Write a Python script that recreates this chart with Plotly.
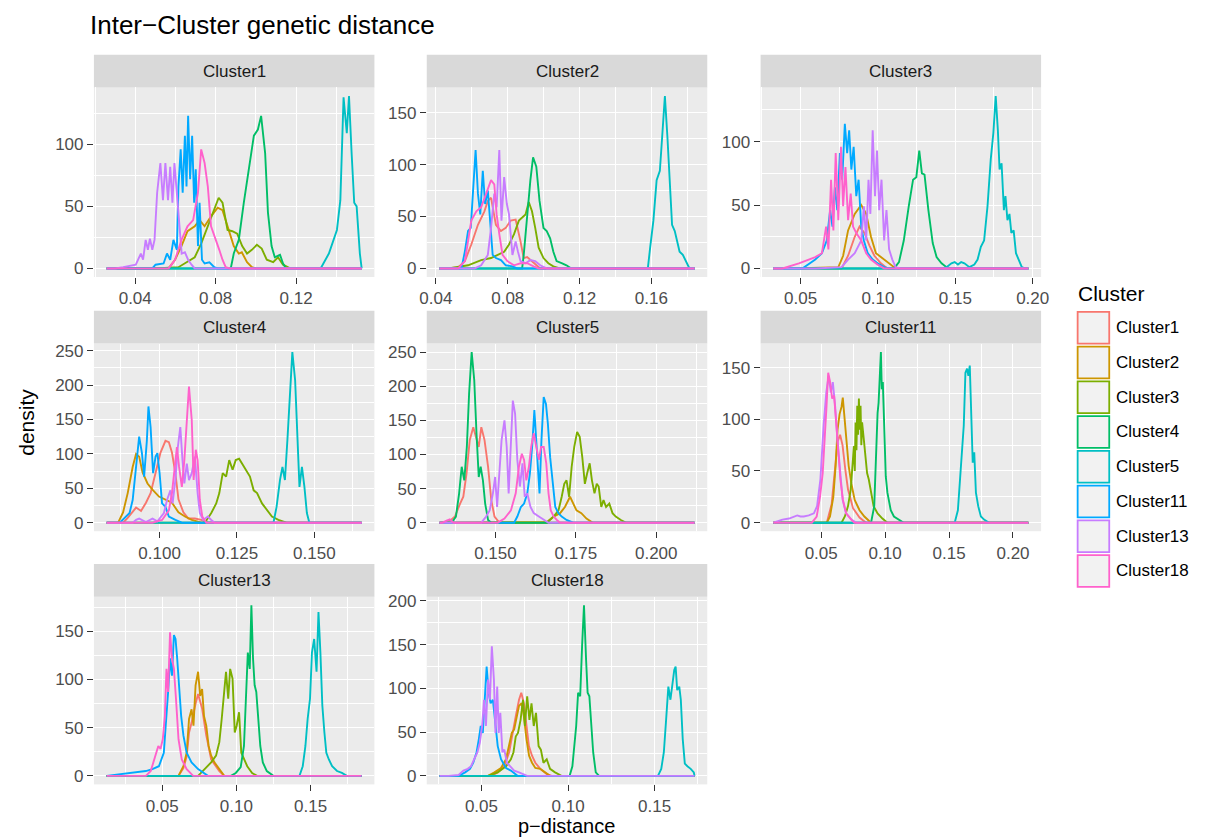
import plotly.graph_objects as go

W, H = 1217, 840
FONT = "Liberation Sans, Arial, Helvetica, sans-serif"

PANELS = ["Cluster1", "Cluster2", "Cluster3", "Cluster4", "Cluster5", "Cluster11", "Cluster13", "Cluster18"]
GROUPS = ["Cluster1", "Cluster2", "Cluster3", "Cluster4", "Cluster5", "Cluster11", "Cluster13", "Cluster18"]
COLORS = ["#F8766D", "#CD9600", "#7CAE00", "#00BE67", "#00BFC4", "#00A9FF", "#C77CFF", "#FF61CC"]

X_DATA_RANGE = {
    "Cluster1": (0.0258, 0.1526), "Cluster2": (0.042, 0.184), "Cluster3": (0.0324, 0.1972),
    "Cluster4": (0.0829, 0.1653), "Cluster5": (0.1326, 0.2119), "Cluster11": (0.0126, 0.212),
    "Cluster13": (0.0126, 0.1844), "Cluster18": (0.0258, 0.173),
}
X_TICKS = {
    "Cluster1": [0.04, 0.08, 0.12], "Cluster2": [0.04, 0.08, 0.12, 0.16],
    "Cluster3": [0.05, 0.10, 0.15, 0.20], "Cluster4": [0.100, 0.125, 0.150],
    "Cluster5": [0.150, 0.175, 0.200], "Cluster11": [0.05, 0.10, 0.15, 0.20],
    "Cluster13": [0.05, 0.10, 0.15], "Cluster18": [0.05, 0.10, 0.15],
}
X_DECIMALS = {"Cluster1": 2, "Cluster2": 2, "Cluster3": 2, "Cluster4": 3,
              "Cluster5": 3, "Cluster11": 2, "Cluster13": 2, "Cluster18": 2}
Y_TICKS = {
    "Cluster1": [0, 50, 100], "Cluster2": [0, 50, 100, 150], "Cluster3": [0, 50, 100],
    "Cluster4": [0, 50, 100, 150, 200, 250], "Cluster5": [0, 50, 100, 150, 200, 250],
    "Cluster11": [0, 50, 100, 150], "Cluster13": [0, 50, 100, 150],
    "Cluster18": [0, 50, 100, 150, 200],
}

# density curves: panel -> group -> x, y
DENS_CLUSTER1 = {
    "Cluster2": {"x": [0.0566, 0.0598, 0.063, 0.066, 0.0696, 0.072, 0.0745, 0.0777, 0.081, 0.0834, 0.0859, 0.089, 0.0915, 0.093, 0.0956, 0.098, 0.100],
                 "y": [0, 7, 18, 30, 34, 39, 34, 42, 49, 47, 34, 18, 12, 13, 5, 1, 0]},
    "Cluster3": {"x": [0.050, 0.0615, 0.0696, 0.0728, 0.0761, 0.0793, 0.0815, 0.0834, 0.0859, 0.0883, 0.0907, 0.0932, 0.0956, 0.098, 0.1005, 0.1029, 0.1054, 0.1086, 0.111, 0.1135, 0.117],
                 "y": [0, 1, 9, 20, 34, 47, 57, 53, 31, 30, 28, 18, 12, 15, 19, 16, 7, 5, 9, 3, 0]},
    "Cluster4": {"x": [0.0875, 0.089, 0.0915, 0.094, 0.0965, 0.099, 0.101, 0.1026, 0.1046, 0.106, 0.1078, 0.1094, 0.112, 0.1135, 0.115],
                 "y": [0, 12, 23, 53, 80, 107, 112, 123, 93, 45, 18, 9, 11, 4, 0]},
    "Cluster5": {"x": [0.1322, 0.1363, 0.1387, 0.1403, 0.142, 0.1436, 0.1452, 0.1463, 0.1476, 0.1489, 0.1501, 0.1517],
                 "y": [0, 12, 23, 31, 55, 138, 109, 139, 93, 53, 50, 12]},
    "Cluster11": {"x": [0.0485, 0.0501, 0.0541, 0.0558, 0.0574, 0.059, 0.0607, 0.0615, 0.0626, 0.0636, 0.0647, 0.0655, 0.0663, 0.0673, 0.0683, 0.0693, 0.0701, 0.0712, 0.072, 0.0732, 0.0745, 0.0769, 0.0793, 0.081],
                  "y": [0, 3, 4, 12, 7, 23, 15, 66, 96, 61, 107, 66, 123, 72, 107, 53, 80, 18, 53, 7, 4, 5, 1, 0]},
    "Cluster13": {"x": [0.030, 0.034, 0.038, 0.0403, 0.0428, 0.0439, 0.0452, 0.0463, 0.0473, 0.0485, 0.0496, 0.0509, 0.0525, 0.0538, 0.055, 0.0563, 0.0574, 0.0585, 0.0595, 0.0607, 0.0618, 0.0631, 0.0647, 0.0663, 0.068, 0.0696],
                  "y": [0, 1, 2, 3, 12, 7, 23, 15, 24, 15, 23, 61, 85, 55, 85, 55, 82, 53, 85, 58, 34, 12, 13, 7, 3, 0]},
    "Cluster18": {"x": [0.0566, 0.0598, 0.063, 0.066, 0.0688, 0.0712, 0.0728, 0.0745, 0.0761, 0.0777, 0.0802, 0.0818, 0.0834, 0.085, 0.087],
                  "y": [0, 7, 23, 34, 39, 61, 96, 85, 66, 34, 23, 15, 7, 1, 0]},
}
DENS_CLUSTER2 = {
    "Cluster1": {"x": [0.045, 0.0524, 0.0561, 0.0597, 0.0634, 0.067, 0.0689, 0.0707, 0.0734, 0.0762, 0.0789, 0.0816, 0.0844, 0.0871, 0.0889, 0.0908, 0.0935, 0.0963, 0.0981],
                 "y": [0, 1, 7, 23, 42, 55, 65, 68, 42, 36, 39, 46, 47, 26, 10, 11, 7, 2, 0]},
    "Cluster3": {"x": [0.0469, 0.0579, 0.0652, 0.0707, 0.0743, 0.078, 0.0807, 0.0835, 0.0862, 0.088, 0.0899, 0.0917, 0.0935, 0.0953, 0.0972, 0.0999, 0.1026, 0.1054, 0.109],
                 "y": [0, 3, 8, 10, 13, 16, 23, 33, 46, 49, 52, 64, 55, 39, 20, 10, 5, 2, 0]},
    "Cluster4": {"x": [0.088, 0.0889, 0.0908, 0.0926, 0.0941, 0.0959, 0.0977, 0.0999, 0.1017, 0.1036, 0.1054, 0.1072, 0.11, 0.1127, 0.1154],
                 "y": [0, 13, 52, 85, 107, 98, 65, 39, 36, 29, 16, 7, 5, 3, 0]},
    "Cluster5": {"x": [0.158, 0.1593, 0.1611, 0.1629, 0.1647, 0.166, 0.1675, 0.1689, 0.1702, 0.1715, 0.173, 0.1744, 0.1757, 0.1775, 0.1794, 0.1812],
                 "y": [0, 20, 46, 85, 94, 127, 166, 127, 78, 42, 36, 26, 16, 13, 7, 0]},
    "Cluster11": {"x": [0.0542, 0.0561, 0.0579, 0.0594, 0.0606, 0.0621, 0.0634, 0.0647, 0.0661, 0.0674, 0.0689, 0.0703, 0.0716, 0.0734, 0.0762, 0.0789, 0.0826, 0.0853],
                  "y": [0, 16, 36, 39, 78, 114, 72, 52, 94, 62, 75, 46, 13, 10, 8, 3, 2, 0]},
    "Cluster13": {"x": [0.0616, 0.0652, 0.0689, 0.0707, 0.0725, 0.0738, 0.0753, 0.0765, 0.078, 0.0795, 0.0807, 0.0826, 0.0844, 0.0857, 0.0871, 0.0899, 0.0926, 0.0953, 0.0981, 0.1017],
                  "y": [0, 3, 13, 39, 72, 59, 114, 46, 88, 62, 52, 13, 26, 16, 7, 5, 8, 7, 3, 0]},
    "Cluster18": {"x": [0.0524, 0.0561, 0.0597, 0.0625, 0.0652, 0.068, 0.0707, 0.0725, 0.0738, 0.0753, 0.0771, 0.0798, 0.0835, 0.0871, 0.0908, 0.0944, 0.0972],
                  "y": [0, 7, 46, 55, 59, 72, 85, 81, 52, 33, 13, 7, 3, 5, 5, 2, 0]},
}
DENS_CLUSTER3 = {
    "Cluster1": {"x": [0.0765, 0.0807, 0.085, 0.0881, 0.0913, 0.0945, 0.0977, 0.1019, 0.1061],
                 "y": [0, 10, 25, 33, 28, 18, 10, 4, 0]},
    "Cluster2": {"x": [0.045, 0.0744, 0.0775, 0.0807, 0.085, 0.0892, 0.0924, 0.0955, 0.0987, 0.1019, 0.1061, 0.1104, 0.1136],
                 "y": [0, 1, 10, 30, 43, 50, 43, 25, 12, 9, 5, 1, 0]},
    "Cluster4": {"x": [0.1104, 0.1136, 0.1167, 0.1199, 0.1227, 0.1248, 0.1267, 0.1284, 0.1301, 0.1326, 0.1354, 0.1379, 0.1411, 0.1443, 0.1475],
                 "y": [0, 5, 22, 49, 70, 72, 93, 75, 74, 46, 20, 9, 4, 1, 0]},
    "Cluster5": {"x": [0.1422, 0.1443, 0.1475, 0.1496, 0.1517, 0.1538, 0.1559, 0.1591, 0.1623, 0.1644, 0.1665, 0.1686, 0.1708, 0.1729, 0.1746, 0.1761, 0.1775, 0.1786, 0.1799, 0.1814, 0.1824, 0.1837, 0.185, 0.1862, 0.1877, 0.1892, 0.1909, 0.193, 0.1951],
                 "y": [0, 1, 4, 5, 3, 5, 4, 1, 3, 7, 17, 22, 49, 86, 107, 136, 109, 78, 83, 46, 57, 38, 43, 28, 30, 12, 7, 1, 0]},
    "Cluster11": {"x": [0.0511, 0.0595, 0.0638, 0.0669, 0.0691, 0.0706, 0.0722, 0.0737, 0.0754, 0.0769, 0.0786, 0.0801, 0.0814, 0.0828, 0.0843, 0.086, 0.0875, 0.0892, 0.0909, 0.0934, 0.0966, 0.0998, 0.104, 0.1072],
                  "y": [0, 7, 12, 22, 46, 33, 64, 46, 91, 70, 114, 91, 109, 78, 96, 57, 70, 33, 22, 12, 7, 4, 1, 0]},
    "Cluster13": {"x": [0.060, 0.0765, 0.0807, 0.085, 0.0892, 0.0909, 0.0924, 0.0939, 0.0951, 0.0966, 0.0981, 0.0994, 0.1008, 0.1023, 0.104, 0.1055, 0.1072, 0.1093, 0.1114, 0.1146],
                  "y": [0, 1, 7, 12, 22, 49, 22, 70, 43, 109, 57, 93, 46, 70, 22, 46, 15, 7, 1, 0]},
    "Cluster18": {"x": [0.0383, 0.0489, 0.0553, 0.0595, 0.0638, 0.0665, 0.068, 0.0697, 0.0712, 0.0727, 0.0744, 0.0761, 0.0775, 0.079, 0.0807, 0.0824, 0.0839, 0.086, 0.0892, 0.0924, 0.0955, 0.0998, 0.104],
                  "y": [0, 4, 7, 9, 12, 33, 15, 70, 30, 91, 38, 96, 49, 80, 38, 59, 33, 28, 22, 12, 7, 3, 0]},
}
DENS_CLUSTER4 = {
    "Cluster1": {"x": [0.0882, 0.0897, 0.0913, 0.0924, 0.094, 0.0956, 0.0971, 0.0987, 0.1003, 0.1019, 0.103, 0.104, 0.1051, 0.1061, 0.1077, 0.1093, 0.1114, 0.1135, 0.1156],
                 "y": [0, 7, 17, 22, 17, 29, 43, 72, 102, 119, 117, 102, 72, 34, 15, 6, 6, 4, 0]},
    "Cluster2": {"x": [0.0866, 0.0882, 0.0897, 0.0913, 0.0924, 0.0934, 0.0945, 0.0961, 0.0977, 0.0998, 0.1019, 0.104, 0.1061, 0.1082, 0.1104, 0.1135],
                 "y": [0, 15, 43, 81, 100, 96, 73, 57, 48, 38, 34, 29, 15, 9, 4, 0]},
    "Cluster3": {"x": [0.1146, 0.1167, 0.1183, 0.1193, 0.1204, 0.1215, 0.1225, 0.1236, 0.1246, 0.1257, 0.1267, 0.1278, 0.1292, 0.1304, 0.1315, 0.1331, 0.1347, 0.1363, 0.1384, 0.141],
                 "y": [0, 14, 28, 43, 72, 67, 91, 77, 91, 93, 86, 77, 67, 47, 43, 28, 18, 9, 4, 0]},
    "Cluster5": {"x": [0.1368, 0.1378, 0.1389, 0.1397, 0.1405, 0.1413, 0.1421, 0.1429, 0.1438, 0.1445, 0.1452, 0.146, 0.1468, 0.1476, 0.1484],
                 "y": [0, 23, 62, 81, 62, 120, 193, 248, 207, 120, 52, 81, 52, 14, 0]},
    "Cluster11": {"x": [0.0871, 0.0887, 0.0903, 0.0913, 0.0924, 0.0934, 0.0943, 0.095, 0.0959, 0.0964, 0.0971, 0.0979, 0.0987, 0.0993, 0.1, 0.1008, 0.1019, 0.103, 0.1051, 0.1072],
                  "y": [0, 7, 14, 33, 81, 125, 101, 67, 120, 169, 139, 72, 96, 101, 72, 28, 23, 9, 4, 0]},
    "Cluster13": {"x": [0.0913, 0.0924, 0.0934, 0.0956, 0.0977, 0.0993, 0.1014, 0.1024, 0.1035, 0.1042, 0.1051, 0.1059, 0.1067, 0.1074, 0.108, 0.1088, 0.1095, 0.1104, 0.1114, 0.1123, 0.113, 0.1141, 0.1156, 0.1167, 0.1178],
                  "y": [0, 4, 6, 1, 6, 2, 14, 33, 47, 28, 62, 110, 139, 91, 57, 86, 62, 72, 96, 43, 14, 4, 9, 4, 0]},
    "Cluster18": {"x": [0.0977, 0.1008, 0.103, 0.104, 0.1049, 0.1056, 0.1063, 0.1072, 0.108, 0.1088, 0.1095, 0.1104, 0.111, 0.1117, 0.1123, 0.113, 0.1138, 0.1151],
                  "y": [0, 4, 18, 43, 86, 110, 81, 52, 91, 154, 198, 149, 62, 106, 91, 33, 9, 0]},
}
DENS_CLUSTER5 = {
    "Cluster1": {"x": [0.1326, 0.1344, 0.1359, 0.1374, 0.139, 0.14, 0.141, 0.142, 0.1431, 0.1441, 0.1448, 0.1456, 0.1466, 0.1477, 0.1487, 0.1497, 0.1512],
                 "y": [0, 1, 3, 9, 28, 38, 72, 121, 140, 121, 111, 140, 121, 82, 33, 9, 0]},
    "Cluster2": {"x": [0.164, 0.166, 0.1681, 0.1701, 0.1716, 0.1732, 0.1742, 0.1752, 0.1767, 0.1783, 0.1803],
                 "y": [0, 1, 9, 14, 23, 38, 28, 18, 14, 6, 0]},
    "Cluster3": {"x": [0.166, 0.1681, 0.1696, 0.1706, 0.1714, 0.1721, 0.1729, 0.1737, 0.1745, 0.1754, 0.1762, 0.177, 0.1778, 0.1785, 0.1793, 0.18, 0.1808, 0.1815, 0.1821, 0.1829, 0.1836, 0.1844, 0.1854, 0.1864, 0.1874, 0.189, 0.1905],
                 "y": [0, 9, 18, 38, 57, 62, 38, 82, 111, 133, 126, 96, 57, 72, 87, 62, 43, 57, 53, 23, 33, 23, 28, 14, 9, 4, 0]},
    "Cluster4": {"x": [0.1364, 0.1377, 0.1387, 0.1395, 0.1403, 0.1411, 0.1418, 0.1426, 0.1434, 0.1441, 0.1448, 0.1454, 0.1461, 0.1468, 0.1477, 0.1487],
                 "y": [0, 9, 43, 82, 62, 111, 189, 250, 209, 131, 67, 82, 62, 28, 4, 0]},
    "Cluster11": {"x": [0.1558, 0.1568, 0.1579, 0.1589, 0.1599, 0.1607, 0.1614, 0.1621, 0.163, 0.1637, 0.1643, 0.165, 0.1657, 0.1663, 0.167, 0.1679, 0.1686, 0.1696, 0.1706, 0.1721, 0.1742],
                  "y": [0, 9, 23, 28, 43, 72, 111, 165, 101, 43, 121, 184, 174, 145, 96, 57, 23, 14, 9, 4, 0]},
    "Cluster13": {"x": [0.1456, 0.1471, 0.1482, 0.1492, 0.1499, 0.1505, 0.1512, 0.1519, 0.1528, 0.1535, 0.1541, 0.1548, 0.1554, 0.1561, 0.1568, 0.1576, 0.1584, 0.1591, 0.1599, 0.1609, 0.1619, 0.1635, 0.165, 0.1665],
                  "y": [0, 9, 18, 43, 67, 23, 72, 121, 150, 111, 43, 111, 179, 160, 92, 53, 87, 38, 43, 23, 14, 9, 4, 0]},
    "Cluster18": {"x": [0.1335, 0.1348, 0.1358, 0.137, 0.1507, 0.1528, 0.1548, 0.1563, 0.1573, 0.1582, 0.1589, 0.1596, 0.1604, 0.1611, 0.1619, 0.1627, 0.1635, 0.1642, 0.165, 0.1658, 0.1665, 0.1672, 0.1681, 0.1691, 0.1701],
                  "y": [0, 3, 5, 0, 0, 6, 18, 43, 82, 101, 92, 62, 82, 111, 131, 111, 92, 111, 111, 87, 43, 18, 9, 4, 0]},
}
DENS_CLUSTER11 = {
    "Cluster1": {"x": [0.0544, 0.0582, 0.0608, 0.0628, 0.0648, 0.0667, 0.069, 0.071, 0.0749, 0.08, 0.0851],
                 "y": [0, 18, 50, 78, 85, 75, 50, 32, 14, 5, 0]},
    "Cluster2": {"x": [0.0544, 0.0569, 0.0595, 0.0613, 0.0628, 0.0644, 0.0659, 0.0669, 0.0685, 0.07, 0.0715, 0.0736, 0.0762, 0.08, 0.0838, 0.089],
                 "y": [0, 6, 25, 55, 90, 105, 112, 121, 95, 80, 55, 38, 22, 12, 6, 0]},
    "Cluster3": {"x": [0.0659, 0.0685, 0.071, 0.0731, 0.0744, 0.0756, 0.0763, 0.0769, 0.0776, 0.0782, 0.0789, 0.0795, 0.0801, 0.0808, 0.0814, 0.082, 0.0833, 0.0846, 0.0859, 0.0872, 0.089, 0.091, 0.0941, 0.0979, 0.1018],
                 "y": [0, 6, 16, 32, 55, 74, 50, 97, 70, 113, 85, 120, 90, 113, 75, 97, 81, 64, 48, 42, 29, 16, 9, 4, 0]},
    "Cluster4": {"x": [0.089, 0.0915, 0.0928, 0.0941, 0.0949, 0.0959, 0.0967, 0.0974, 0.0982, 0.0992, 0.1005, 0.1018, 0.1031, 0.1044, 0.1069, 0.1108, 0.1146],
                 "y": [0, 16, 64, 106, 116, 152, 165, 129, 136, 97, 45, 29, 22, 12, 6, 3, 0]},
    "Cluster5": {"x": [0.1544, 0.1569, 0.1587, 0.1603, 0.1615, 0.1628, 0.1641, 0.1651, 0.1662, 0.1674, 0.1685, 0.1697, 0.171, 0.1728, 0.1749, 0.1774, 0.1813],
                 "y": [0, 12, 48, 74, 94, 145, 149, 142, 152, 103, 58, 68, 29, 16, 6, 3, 0]},
    "Cluster13": {"x": [0.0197, 0.0249, 0.0287, 0.0313, 0.0338, 0.0364, 0.0403, 0.0443, 0.0468, 0.0494, 0.0519, 0.054, 0.0558, 0.0576, 0.0591, 0.0609, 0.0627, 0.0648, 0.0668, 0.0694, 0.0737, 0.0776],
                  "y": [3, 4, 6, 7, 6, 6, 7, 9, 16, 42, 94, 126, 142, 126, 136, 113, 81, 48, 22, 9, 3, 0]},
    "Cluster18": {"x": [0.0427, 0.0465, 0.0491, 0.0512, 0.0529, 0.0542, 0.0555, 0.057, 0.0586, 0.0601, 0.0617, 0.0632, 0.065, 0.067, 0.0696, 0.0735, 0.076],
                  "y": [0, 6, 25, 48, 81, 113, 145, 136, 120, 123, 97, 71, 42, 22, 9, 3, 0]},
}
DENS_CLUSTER13 = {
    "Cluster1": {"x": [0.061, 0.0643, 0.0665, 0.0681, 0.0698, 0.0725, 0.0742, 0.0769, 0.0797, 0.083, 0.0885, 0.0918],
                 "y": [0, 8, 20, 45, 55, 75, 85, 70, 42, 17, 5, 0]},
    "Cluster2": {"x": [0.061, 0.0643, 0.0665, 0.0681, 0.0698, 0.0711, 0.0725, 0.0742, 0.0756, 0.0769, 0.0782, 0.0797, 0.0813, 0.083, 0.0852, 0.0885, 0.0918],
                 "y": [0, 10, 24, 59, 69, 52, 94, 108, 83, 90, 62, 52, 31, 21, 14, 7, 0]},
    "Cluster3": {"x": [0.0742, 0.0786, 0.083, 0.0863, 0.0885, 0.0901, 0.0914, 0.093, 0.0945, 0.0958, 0.0974, 0.0989, 0.1002, 0.1018, 0.1033, 0.1051, 0.1073, 0.1106, 0.1139],
                 "y": [0, 7, 14, 21, 35, 59, 80, 108, 80, 111, 101, 45, 52, 66, 24, 17, 10, 3, 0]},
    "Cluster4": {"x": [0.0963, 0.0996, 0.1029, 0.1051, 0.1064, 0.1077, 0.109, 0.1101, 0.1112, 0.1123, 0.1134, 0.1145, 0.1161, 0.1178, 0.1205, 0.1249],
                 "y": [0, 3, 9, 31, 87, 128, 111, 177, 122, 94, 87, 59, 31, 14, 5, 0]},
    "Cluster5": {"x": [0.1425, 0.1447, 0.1465, 0.148, 0.1496, 0.1509, 0.1524, 0.154, 0.1553, 0.1566, 0.1579, 0.1593, 0.1606, 0.1623, 0.1645, 0.1678, 0.1711, 0.1744],
                 "y": [0, 10, 31, 59, 80, 128, 142, 108, 170, 128, 73, 45, 24, 17, 10, 5, 3, 0]},
    "Cluster11": {"x": [0.0236, 0.0302, 0.039, 0.0434, 0.0478, 0.0511, 0.0526, 0.054, 0.0553, 0.0566, 0.0579, 0.059, 0.0601, 0.0615, 0.0628, 0.0643, 0.0665, 0.0698, 0.0742, 0.0808],
                  "y": [2, 3, 5, 7, 10, 24, 52, 87, 122, 104, 146, 142, 122, 87, 62, 42, 24, 14, 7, 0]},
    "Cluster18": {"x": [0.039, 0.0423, 0.0445, 0.046, 0.0474, 0.0489, 0.0504, 0.0518, 0.0529, 0.054, 0.0553, 0.0566, 0.0579, 0.0593, 0.061, 0.0632, 0.0665, 0.0709],
                  "y": [0, 5, 17, 24, 31, 28, 38, 62, 111, 87, 149, 122, 111, 80, 38, 17, 7, 0]},
}
DENS_CLUSTER18 = {
    "Cluster1": {"x": [0.0557, 0.0594, 0.0632, 0.066, 0.0679, 0.0698, 0.0717, 0.073, 0.0745, 0.076, 0.0774, 0.0792, 0.0811, 0.084, 0.0877, 0.0906],
                 "y": [0, 4, 11, 27, 49, 68, 87, 95, 83, 57, 34, 23, 15, 8, 2, 0]},
    "Cluster2": {"x": [0.0538, 0.0575, 0.0613, 0.0642, 0.066, 0.0675, 0.0689, 0.0704, 0.0717, 0.0732, 0.0745, 0.076, 0.0775, 0.0792, 0.0811, 0.084, 0.0868, 0.0896],
                 "y": [0, 4, 9, 19, 34, 49, 53, 68, 80, 83, 68, 42, 23, 15, 9, 8, 4, 0]},
    "Cluster3": {"x": [0.0538, 0.0594, 0.0642, 0.067, 0.0685, 0.0698, 0.0711, 0.0726, 0.074, 0.0751, 0.0764, 0.0777, 0.0789, 0.0802, 0.0815, 0.083, 0.0843, 0.0858, 0.0877, 0.0896, 0.0925, 0.0962],
                 "y": [0, 4, 11, 19, 27, 45, 49, 64, 87, 57, 91, 64, 83, 57, 72, 34, 30, 15, 19, 8, 4, 0]},
    "Cluster4": {"x": [0.1009, 0.1025, 0.1038, 0.1047, 0.1058, 0.107, 0.1081, 0.1092, 0.1104, 0.1113, 0.1123, 0.1134, 0.1145, 0.116, 0.1179],
                 "y": [0, 11, 34, 57, 95, 91, 148, 195, 133, 95, 91, 57, 27, 4, 0]},
    "Cluster5": {"x": [0.1519, 0.1538, 0.1553, 0.1566, 0.1579, 0.1591, 0.1602, 0.1613, 0.1621, 0.163, 0.1642, 0.1651, 0.1662, 0.1674, 0.1689, 0.1708, 0.1726],
                 "y": [0, 8, 27, 64, 102, 87, 102, 121, 125, 98, 102, 87, 42, 14, 11, 8, 4]},
    "Cluster11": {"x": [0.0368, 0.0406, 0.0434, 0.0453, 0.0472, 0.0485, 0.0496, 0.0508, 0.0519, 0.053, 0.0542, 0.0553, 0.0566, 0.0579, 0.0594, 0.0613, 0.0642, 0.067, 0.0708],
                  "y": [0, 4, 8, 15, 27, 42, 57, 49, 95, 125, 95, 83, 87, 64, 34, 19, 9, 6, 0]},
    "Cluster13": {"x": [0.0311, 0.0368, 0.0396, 0.0421, 0.044, 0.0458, 0.0477, 0.0491, 0.0504, 0.0515, 0.0526, 0.0538, 0.0549, 0.056, 0.0572, 0.0581, 0.0591, 0.06, 0.0609, 0.0621, 0.0632, 0.0647, 0.0666, 0.0689, 0.0717, 0.0764],
                  "y": [0, 1, 6, 8, 11, 19, 27, 38, 57, 87, 57, 110, 87, 148, 110, 49, 102, 49, 72, 27, 30, 15, 11, 6, 4, 0]},
}
PANEL_DATA = {
    "Cluster1": DENS_CLUSTER1, "Cluster2": DENS_CLUSTER2, "Cluster3": DENS_CLUSTER3,
    "Cluster4": DENS_CLUSTER4, "Cluster5": DENS_CLUSTER5, "Cluster11": DENS_CLUSTER11,
    "Cluster13": DENS_CLUSTER13, "Cluster18": DENS_CLUSTER18,
}

# ---------------- layout geometry (pixels) ----------------
COLS = [(88, 372), (425, 709), (763, 1047)]
ROWS = [(50, 83, 274), (308, 341, 530), (563, 596, 785)]  # strip top, panel top, panel bottom


def fx(p):
    return p / W


def fy(p):
    return 1 - p / H


def minor_of(ticks, lo, hi):
    step = ticks[1] - ticks[0]
    cand = [ticks[0] - step / 2] + [t + step / 2 for t in ticks]
    return [c for c in cand if lo <= c <= hi]


fig = go.Figure()
shapes, annotations = [], []
axes = {}
tickfont = dict(family=FONT, size=17, color="#4D4D4D")

for i, panel in enumerate(PANELS):
    n = i + 1
    r, c = divmod(i, 3)
    x0, x1 = COLS[c]
    s0, p0, p1 = ROWS[r]
    xa = "x" if n == 1 else f"x{n}"
    ya = "y" if n == 1 else f"y{n}"
    lo, hi = X_DATA_RANGE[panel]
    curves = PANEL_DATA[panel]
    ymax = max(max(v["y"]) for v in curves.values())
    for g, col in zip(GROUPS, COLORS):
        if g not in curves:
            continue
        xs = list(curves[g]["x"])
        ys = list(curves[g]["y"])
        assert len(xs) == len(ys), (panel, g)
        if xs[0] > lo:
            xs, ys = [lo] + xs, [0] + ys
        if xs[-1] < hi:
            xs, ys = xs + [hi], ys + [0]
        fig.add_trace(go.Scatter(x=xs, y=ys, mode="lines", line=dict(color=col, width=1.9),
                                 xaxis=xa, yaxis=ya, showlegend=False, hoverinfo="skip"))
    pad = (hi - lo) * 0.05
    xr = [lo - pad, hi + pad]
    yr = [-0.05 * ymax, 1.05 * ymax]
    xt = X_TICKS[panel]
    yt = Y_TICKS[panel]
    d = X_DECIMALS[panel]
    axes["xaxis" if n == 1 else f"xaxis{n}"] = dict(
        domain=[fx(x0), fx(x1)], anchor=ya, range=xr, tickmode="array", tickvals=xt,
        ticktext=[f"{t:.{d}f}" for t in xt], ticks="outside", ticklen=6, tickwidth=1.3,
        tickcolor="#333333", showgrid=True, gridcolor="white", gridwidth=1.3,
        minor=dict(tickmode="array", tickvals=minor_of(xt, *xr), showgrid=True,
                   gridcolor="white", gridwidth=0.7, ticks=""),
        zeroline=False, showline=False, tickfont=tickfont, fixedrange=True)
    axes["yaxis" if n == 1 else f"yaxis{n}"] = dict(
        domain=[fy(p1), fy(p0)], anchor=xa, range=yr, tickmode="array", tickvals=yt,
        ticktext=[str(t) for t in yt], ticks="outside", ticklen=6, tickwidth=1.3,
        tickcolor="#333333", showgrid=True, gridcolor="white", gridwidth=1.3,
        minor=dict(tickmode="array", tickvals=minor_of(yt, *yr), showgrid=True,
                   gridcolor="white", gridwidth=0.7, ticks=""),
        zeroline=False, showline=False, tickfont=tickfont, fixedrange=True)
    shapes.append(dict(type="rect", xref="paper", yref="paper", x0=fx(x0), x1=fx(x1),
                       y0=fy(p0), y1=fy(s0), fillcolor="#D9D9D9", line=dict(width=0), layer="below"))
    annotations.append(dict(text=panel, xref="paper", yref="paper", x=fx((x0 + x1) / 2),
                            y=fy((s0 + p0) / 2), xanchor="center", yanchor="middle", showarrow=False,
                            font=dict(family=FONT, size=17, color="#1A1A1A")))

# legend (ggplot style boxed keys)
annotations.append(dict(text="Cluster", xref="paper", yref="paper", x=fx(1082), y=fy(291),
                        xanchor="left", yanchor="middle", showarrow=False,
                        font=dict(family=FONT, size=21, color="black")))
for k, (g, col) in enumerate(zip(GROUPS, COLORS)):
    top = 309 + 35 * k
    shapes.append(dict(type="rect", xref="paper", yref="paper", x0=fx(1084), x1=fx(1116),
                       y0=fy(top + 32), y1=fy(top), fillcolor="#F2F2F2",
                       line=dict(color=col, width=1.8)))
    annotations.append(dict(text=g, xref="paper", yref="paper", x=fx(1121), y=fy(top + 16),
                            xanchor="left", yanchor="middle", showarrow=False,
                            font=dict(family=FONT, size=17, color="black")))

annotations.append(dict(text="Inter\u2212Cluster genetic distance", xref="paper", yref="paper",
                        x=fx(82), y=fy(20), xanchor="left", yanchor="middle", showarrow=False,
                        font=dict(family=FONT, size=26, color="black")))
annotations.append(dict(text="density", xref="paper", yref="paper", x=fx(19), y=fy(420),
                        xanchor="center", yanchor="middle", textangle=-90, showarrow=False,
                        font=dict(family=FONT, size=21, color="black")))
annotations.append(dict(text="p\u2212distance", xref="paper", yref="paper", x=fx(566), y=fy(827),
                        xanchor="center", yanchor="middle", showarrow=False,
                        font=dict(family=FONT, size=20, color="black")))

fig.update_layout(width=W, height=H, autosize=False, margin=dict(l=0, r=0, t=0, b=0),
                  paper_bgcolor="white", plot_bgcolor="#EBEBEB", showlegend=False,
                  shapes=shapes, annotations=annotations, **axes)
fig.write_html("out.html", config={"displayModeBar": False},
               post_script="document.body.style.margin='0';document.body.style.overflow='hidden';")
